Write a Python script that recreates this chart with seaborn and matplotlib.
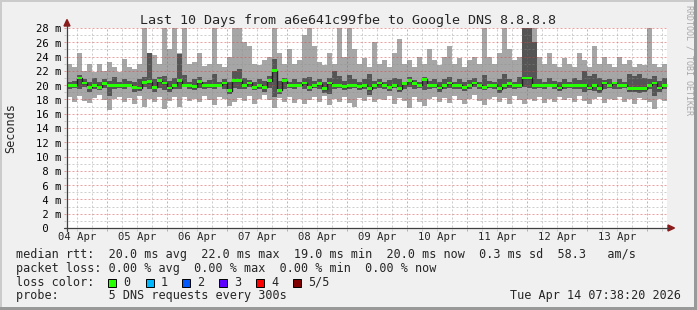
import numpy as np
import pandas as pd
import matplotlib
matplotlib.use("Agg")
import matplotlib.pyplot as plt
import seaborn as sns
from matplotlib.patches import Rectangle, Polygon
from matplotlib.lines import Line2D

# ---------------- data (ms), 2-hour bins over 10 days ----------------
rtt_max = [23.0, 22.5, 24.5, 22.0, 23.0, 21.8, 23.0, 22.0, 23.3, 22.5,
           21.8, 23.7, 22.5, 22.2, 23.0, 28.5, 23.5, 24.2, 23.0, 28.5,
           25.0, 28.5, 24.5, 28.5, 23.0, 23.3, 24.5, 22.7, 23.0, 28.5,
           23.0, 22.5, 24.0, 28.5, 28.5, 26.0, 25.5, 23.0, 22.8, 23.5,
           24.0, 28.5, 24.5, 23.0, 25.0, 23.0, 23.5, 27.0, 28.5, 25.5,
           23.3, 22.8, 24.5, 23.0, 28.5, 24.0, 28.5, 25.0, 23.0, 23.8,
           22.5, 26.0, 23.0, 23.5, 22.5, 24.5, 26.5, 23.0, 23.5, 22.5,
           24.0, 23.0, 25.0, 23.5, 22.8, 24.0, 25.5, 23.0, 23.8, 22.5,
           23.5, 24.0, 23.0, 28.5, 24.0, 23.0, 24.5, 28.5, 25.0, 23.5,
           24.0, 28.5, 28.5, 28.5, 24.0, 23.0, 24.5, 23.0, 22.5, 23.8,
           23.0, 22.5, 24.5, 23.5, 22.5, 25.5, 23.0, 24.0, 23.0, 22.5,
           24.0, 23.0, 23.5, 22.5, 23.0, 22.8, 28.5, 23.0, 22.5, 23.0]

rtt_min = [18.3, 17.6, 18.5, 17.8, 17.5, 18.2, 18.6, 17.9, 16.5, 18.0,
           18.4, 17.6, 18.2, 17.3, 18.5, 17.0, 18.1, 17.7, 18.4, 16.6,
           17.8, 18.3, 17.0, 18.4, 17.8, 18.0, 17.6, 18.5, 17.9, 17.2,
           18.3, 18.0, 17.1, 17.6, 18.2, 17.8, 18.5, 17.4, 18.1, 18.6,
           17.9, 16.8, 18.2, 17.7, 18.4, 17.5, 18.0, 17.3, 17.9, 18.3,
           17.6, 18.5, 17.2, 18.0, 17.7, 18.3, 17.5, 16.9, 18.2, 17.8,
           18.4, 17.6, 18.1, 17.9, 18.5, 17.4, 18.2, 17.8, 16.8, 18.3,
           17.6, 17.1, 18.0, 18.4, 17.7, 18.2, 17.5, 18.5, 17.9, 17.3,
           18.1, 18.6, 17.8, 17.2, 18.0, 18.4, 17.6, 18.2, 17.3, 18.5,
           17.9, 17.4, 18.0, 17.8, 18.3, 17.5, 18.1, 17.7, 18.4, 17.9,
           18.2, 17.6, 18.5, 17.8, 17.3, 18.0, 18.4, 17.5, 18.1, 17.9,
           18.3, 17.7, 18.0, 17.4, 18.2, 17.9, 17.6, 16.7, 18.1, 17.8]

smoke_hi = [20.5, 20.6, 21.4, 20.8, 20.4, 21.0, 20.5, 20.8, 20.6, 21.1,
            20.5, 20.8, 20.6, 20.4, 20.9, 21.2, 24.5, 20.8, 21.1, 21.3,
            20.6, 21.0, 24.4, 21.4, 20.5, 20.8, 21.1, 20.5, 20.7, 21.6,
            20.5, 20.8, 20.5, 22.0, 22.3, 21.0, 20.7, 20.5, 20.8, 20.6,
            21.3, 23.6, 20.6, 21.0, 20.5, 20.8, 20.5, 21.0, 21.2, 20.6,
            20.8, 20.5, 21.0, 22.0, 21.3, 20.6, 21.4, 20.8, 20.5, 20.8,
            21.5, 20.6, 20.8, 20.5, 20.7, 21.0, 20.8, 20.5, 21.1, 20.7,
            20.5, 21.2, 20.6, 20.8, 20.5, 20.9, 21.2, 20.5, 20.8, 20.5,
            20.7, 21.0, 20.5, 21.4, 20.6, 20.5, 20.8, 21.6, 20.8, 20.5,
            21.1, 28.5, 28.5, 26.0, 20.8, 20.5, 21.0, 20.6, 20.5, 20.8,
            20.5, 21.0, 20.7, 22.0, 21.3, 21.6, 21.0, 20.7, 20.8, 20.5,
            20.8, 20.5, 21.5, 21.3, 21.6, 21.0, 20.8, 21.3, 20.6, 21.0]

smoke_lo = [19.5, 19.6, 19.4, 19.7, 19.0, 19.5, 19.3, 19.6, 18.5, 19.5,
            19.6, 19.4, 19.7, 19.1, 19.2, 19.7, 19.5, 19.1, 19.6, 19.3,
            19.1, 19.5, 19.4, 19.7, 19.5, 19.3, 19.6, 19.4, 19.6, 19.5,
            19.7, 19.5, 18.8, 19.6, 19.5, 19.4, 19.7, 19.3, 19.5, 19.1,
            19.6, 18.4, 18.7, 19.5, 19.6, 19.4, 19.7, 19.5, 19.2, 19.6,
            19.5, 18.9, 18.7, 19.5, 19.6, 19.3, 19.5, 19.6, 19.3, 19.5,
            18.6, 19.4, 19.6, 19.5, 19.2, 19.6, 19.0, 19.5, 19.7, 19.4,
            19.6, 19.3, 19.5, 19.6, 19.1, 19.5, 19.6, 19.4, 19.5, 19.2,
            19.5, 19.7, 19.4, 19.3, 19.6, 19.5, 18.9, 19.4, 19.6, 19.5,
            19.6, 19.8, 19.6, 19.5, 19.6, 19.5, 19.7, 19.4, 19.2, 19.5,
            19.6, 19.5, 19.4, 19.0, 19.3, 19.2, 18.9, 19.5, 19.6, 19.4,
            19.5, 19.6, 19.0, 19.0, 18.9, 19.0, 19.5, 18.5, 19.0, 19.4]

rtt_median = [20.0, 20.0, 21.0, 20.3, 19.7, 20.0, 19.7, 20.2, 20.0, 20.0,
              20.0, 20.0, 20.0, 19.7, 19.6, 20.4, 20.5, 19.7, 20.6, 20.3,
              19.6, 20.0, 20.6, 20.0, 20.0, 19.8, 20.5, 20.0, 20.0, 20.0,
              20.0, 20.3, 19.2, 20.6, 20.6, 20.0, 20.3, 19.7, 20.0, 19.7,
              20.6, 22.0, 19.3, 20.6, 20.0, 20.0, 20.0, 20.3, 19.7, 20.0,
              20.2, 19.5, 20.3, 20.0, 20.0, 19.8, 20.0, 20.0, 19.8, 20.0,
              19.5, 20.0, 20.3, 20.0, 19.7, 20.0, 19.5, 20.2, 20.6, 20.2,
              20.0, 20.8, 20.0, 20.0, 19.6, 20.0, 20.3, 20.0, 20.0, 19.7,
              20.0, 20.3, 20.0, 19.7, 20.0, 20.0, 19.5, 20.0, 20.2, 20.0,
              20.0, 21.0, 21.0, 20.0, 20.0, 20.0, 20.0, 20.0, 19.6, 20.0,
              20.0, 20.0, 20.0, 20.0, 19.6, 20.0, 19.5, 20.3, 20.0, 20.3,
              20.0, 20.0, 19.5, 19.5, 19.5, 19.5, 20.0, 20.3, 19.6, 20.0]

day_labels = ["04 Apr", "05 Apr", "06 Apr", "07 Apr", "08 Apr",
              "09 Apr", "10 Apr", "11 Apr", "12 Apr", "13 Apr"]
y_ticks = list(range(0, 29, 2))
loss_labels = ["0", "1", "2", "3", "4", "5/5"]
loss_colors = ["#26ff00", "#00b8ff", "#0059ff", "#5e00ff", "#ff0000", "#7e0000"]

title = "Last 10 Days from a6e641c99fbe to Google DNS 8.8.8.8"
legend_lines = [
    "median rtt:  20.0 ms avg  22.0 ms max  19.0 ms min  20.0 ms now  0.3 ms sd  58.3   am/s",
    "packet loss: 0.00 % avg  0.00 % max  0.00 % min  0.00 % now",
    "loss color:",
    "probe:       5 DNS requests every 300s",
]
date_text = "Tue Apr 14 07:38:20 2026"

# ---------------- figure ----------------
W, H = 697, 310
sns.set_style("white")
plt.rcParams["font.family"] = ["DejaVu Sans Mono", "DejaVu Sans"]

fig = plt.figure(figsize=(W / 100, H / 100), dpi=100, facecolor="#f0f0f0")


def fx(x):
    return x / W


def fy(y):
    return 1 - y / H


ax = fig.add_axes([fx(67), fy(228), 600 / W, 200 / H])
ax.set_facecolor("white")

t0 = 0.338
n = len(rtt_median)
edges = t0 + np.arange(n + 1) / 12.0


def ext(a):
    a = np.asarray(a, dtype=float)
    return np.append(a, a[-1])


ax.fill_between(edges, ext(rtt_min), ext(rtt_max), step="post",
                color="#a6a6a6", lw=0, zorder=1)
ax.fill_between(edges, ext(smoke_lo), ext(smoke_hi), step="post",
                color="#555555", lw=0, zorder=2)

# grid (semi-transparent, drawn over smoke like rrdtool)
minor_c = (0.55, 0.55, 0.55, 0.42)
major_c = (0.88, 0.25, 0.25, 0.5)
for v in range(1, 29):
    ax.plot([t0 - 0.05, t0 + 10], [v, v], ls=(0, (2, 2)), lw=0.72,
            color=major_c if v % 2 == 0 else minor_c, clip_on=False, zorder=3)
for k in range(1, 44):
    t = k * 0.25
    if t0 < t < t0 + 10:
        ax.plot([t, t], [-0.42, 28], ls=(0, (2, 2)), lw=0.72,
                color=major_c if k % 4 == 0 else minor_c, clip_on=False, zorder=3)

df = pd.DataFrame({"t": edges, "median": ext(rtt_median)})
sns.lineplot(data=df, x="t", y="median", drawstyle="steps-post", color="#202020",
             lw=1, ax=ax, estimator=None, zorder=4)
med = ext(rtt_median)
ax.fill_between(edges, med - 0.2, med + 0.2, step="post", color="#26ff00", lw=0, zorder=5)

ax.set_xlim(t0, t0 + 10)
ax.set_ylim(0, 28)
ax.set_xticks([])
ax.set_yticks([])
ax.set_xlabel("")
ax.set_ylabel("")
for s in ax.spines.values():
    s.set_visible(False)

# axes lines and arrows
axis_c = "#404040"
arrow_c = "#8b1a1a"
fig.add_artist(Line2D([fx(67), fx(67)], [fy(231), fy(24)], color=axis_c, lw=0.9))
fig.add_artist(Line2D([fx(64), fx(669)], [fy(228), fy(228)], color=axis_c, lw=0.9))
fig.add_artist(Polygon([(fx(64), fy(26)), (fx(70), fy(26)), (fx(67), fy(19.5))],
                       closed=True, color=arrow_c, transform=fig.transFigure))
fig.add_artist(Polygon([(fx(668), fy(225)), (fx(668), fy(231)), (fx(674.5), fy(228))],
                       closed=True, color=arrow_c, transform=fig.transFigure))

# tick labels
for v in y_ticks:
    s = f"{v:2d} m" if v else " 0"
    fig.text(fx(35.6), fy(228 - v * 200 / 28 + 4.4), s, ha="left", va="baseline",
             fontsize=7.6, color="black")
for d, lab in enumerate(day_labels):
    xp = 67 + (d + 0.5 - t0) * 60
    fig.text(fx(xp), fy(240), lab, ha="center", va="baseline", fontsize=7.6)

fig.text(fx(10.5), fy(128), "Seconds", rotation=90, ha="center", va="center", fontsize=8.5)
fig.text(fx(347.5), fy(24), title, ha="center", va="baseline", fontsize=9.6)

# legend
base_y = [257.7, 271.7, 285.7, 299.3]
for txt, by in zip(legend_lines, base_y):
    fig.text(fx(16), fy(by), txt, ha="left", va="baseline", fontsize=8.5)
fig.text(fx(681), fy(299.3), date_text, ha="right", va="baseline", fontsize=8.5)

sq_x = [108.3, 145.7, 182.3, 219.3, 256.0, 293.3]
for xs, lab, col in zip(sq_x, loss_labels, loss_colors):
    fig.add_artist(Rectangle((fx(xs), fy(286.5)), 8 / W, 8 / H, transform=fig.transFigure,
                             facecolor=col, edgecolor="black", lw=0.7))
    fig.text(fx(xs + 15), fy(285.7), lab, ha="left", va="baseline", fontsize=8.5)

# watermark
fig.text(fx(689), fy(5), "RRDTOOL / TOBI OETIKER", rotation=-90, ha="center", va="top",
         fontsize=6, color="#a8a8a8")

# frame shading
fig.add_artist(Rectangle((0, fy(2)), 1, 2 / H, transform=fig.transFigure, color="#cbcbcb", lw=0))
fig.add_artist(Rectangle((0, 0), 2 / W, 1, transform=fig.transFigure, color="#cbcbcb", lw=0))
fig.add_artist(Rectangle((0, 0), 1, 3 / H, transform=fig.transFigure, color="#999999", lw=0))
fig.add_artist(Rectangle((fx(694), 0), 3 / W, 1, transform=fig.transFigure, color="#999999", lw=0))

fig.savefig("out.png", dpi=100, facecolor=fig.get_facecolor())
